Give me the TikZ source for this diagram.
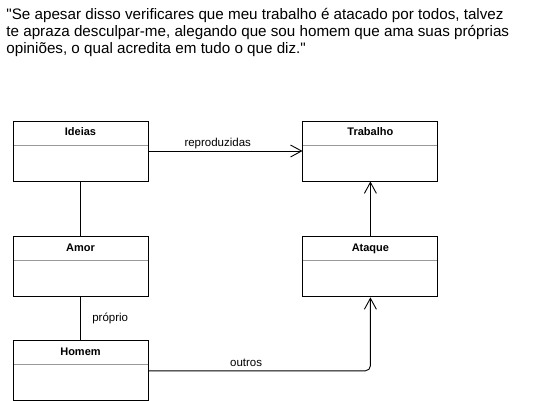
\documentclass[tikz,border=0pt]{standalone}
\usepackage{fontspec}
\setmainfont{Liberation Sans}
\newfontfamily\citfont{Liberation Sans}
\usetikzlibrary{arrows.meta, positioning}

\begin{document}
\begin{tikzpicture}[x=1pt, y=1pt, node distance=55pt and 154pt, auto, line width=0.9pt]
        % estilos das classes e das setas
        \tikzset{
            classe/.style={rectangle, draw=black, fill=white, minimum width=135pt, minimum height=60pt, inner sep=0pt,
                path picture={\draw[gray!80] ([yshift=-24pt]path picture bounding box.north west) -- ([yshift=-24pt]path picture bounding box.north east);},
                label={[anchor=north, inner sep=0pt, yshift=-7pt, font=\fontsize{11}{13}\selectfont\bfseries]north:#1}},
            arrow/.style={-{Straight Barb[length=11pt, width=12pt]}},
            rotulo/.style={font=\fontsize{11.5}{13}\selectfont}
        }
        \useasboundingbox (0,0) rectangle (541,-400);

        % citação
        \node (citacao) [anchor=north west, inner sep=0pt, align=left, font=\citfont\fontsize{15.2}{17}\selectfont] at (6,-8)
            {"Se apesar disso verificares que meu trabalho é atacado por todos, talvez\\
             te apraza desculpar-me, alegando que sou homem que ama suas próprias\\
             opiniões, o qual acredita em tudo o que diz."};

        % coluna da esquerda
        \node (ideias) [classe=Ideias] at (80.5,-151) {};
        \node (amor) [classe=Amor, below=of ideias] {};
        \node (homem) [classe=Homem, below=43pt of amor] {};

        % coluna da direita
        \node (trabalho) [classe=Trabalho, right=of ideias] {};
        \node (ataque) [classe=Ataque, right=of amor] {};

        % ligações
        \draw [arrow] (ideias) -- node[rotulo, above, pos=0.45, inner sep=2pt] {reproduzidas} (trabalho);
        \draw (ideias) -- (amor);
        \draw (amor) -- node[rotulo, right, xshift=8pt] {próprio} (homem);
        \draw [arrow, rounded corners=5pt] (homem.east) -| node[rotulo, above, pos=0.22, inner sep=4pt] {outros} (ataque.south);
        \draw [arrow] (ataque) -- (trabalho);

    \end{tikzpicture}
\end{document}
